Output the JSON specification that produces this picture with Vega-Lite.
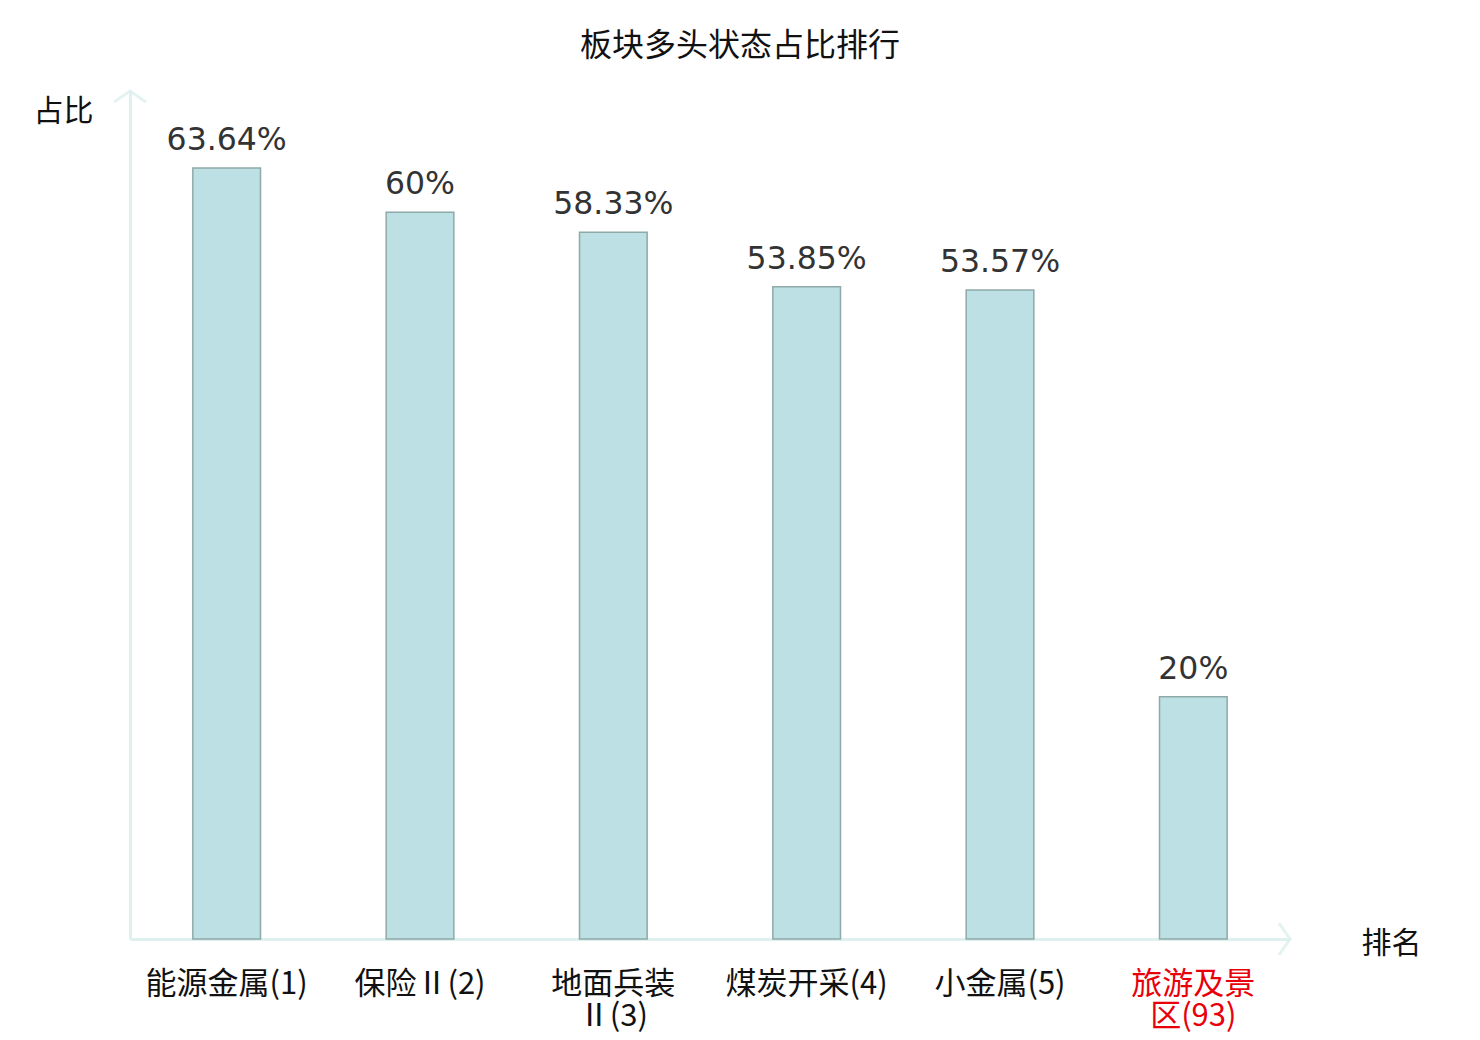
{
  "$schema": "https://vega.github.io/schema/vega-lite/v6.json",
  "autosize": {"type": "none"},
  "padding": {"left": 130, "top": 91, "right": 190, "bottom": 101},
  "width": 1160,
  "height": 848,
  "background": "white",
  "title": {
    "text": "板块多头状态占比排行",
    "font": "Noto Sans CJK SC",
    "fontSize": 32,
    "fontWeight": "normal",
    "color": "#111111",
    "anchor": "middle",
    "frame": "group",
    "dx": 30,
    "offset": 22
  },
  "config": {"view": {"stroke": null}},
  "data": {
    "values": [
      {"name": "能源金属(1)", "value": 63.64, "label": "63.64%"},
      {"name": "保险Ⅱ(2)", "value": 60, "label": "60%"},
      {"name": "地面兵装\nⅡ(3)", "value": 58.33, "label": "58.33%"},
      {"name": "煤炭开采(4)", "value": 53.85, "label": "53.85%"},
      {"name": "小金属(5)", "value": 53.57, "label": "53.57%"},
      {"name": "旅游及景\n区(93)", "value": 20, "label": "20%"}
    ]
  },
  "layer": [
    {
      "mark": {"type": "bar", "fill": "#bce0e3", "stroke": "#8fa9a9", "strokeWidth": 1.5},
      "encoding": {
        "x": {
          "field": "name",
          "type": "nominal",
          "sort": null,
          "scale": {"paddingInner": 0.65, "paddingOuter": 0.325},
          "axis": {
            "title": "排名",
            "titleFont": "Noto Sans CJK SC",
            "titleFontSize": 30,
            "titleFontWeight": "normal",
            "titleColor": "#111111",
            "titleAngle": 0,
            "titleAlign": "center",
            "titleBaseline": "middle",
            "titleX": 1261,
            "titleY": 4,
            "domainColor": "#def1ef",
            "domainWidth": 3,
            "ticks": false,
            "grid": false,
            "labelAngle": 0,
            "labelFont": "Noto Sans CJK SC",
            "labelFontSize": 31,
            "labelLineHeight": 32,
            "labelPadding": 30,
            "labelBaseline": "top",
            "labelExpr": "split(datum.value, '\\n')",
            "labelColor": {
              "condition": {"test": "indexof(datum.value, '旅游') >= 0", "value": "#e8000b"},
              "value": "#111111"
            }
          }
        },
        "y": {
          "field": "value",
          "type": "quantitative",
          "scale": {"domain": [0, 70], "nice": false},
          "axis": {
            "title": "占比",
            "titleFont": "Noto Sans CJK SC",
            "titleFontSize": 30,
            "titleFontWeight": "normal",
            "titleColor": "#111111",
            "titleAngle": 0,
            "titleAlign": "center",
            "titleBaseline": "middle",
            "titleX": -67,
            "titleY": 20,
            "domainColor": "#def1ef",
            "domainWidth": 3,
            "ticks": false,
            "labels": false,
            "grid": false
          }
        }
      }
    },
    {
      "mark": {"type": "text", "font": "DejaVu Sans", "fontSize": 31.5, "color": "#333333", "baseline": "alphabetic", "dy": -18},
      "encoding": {
        "x": {"field": "name", "type": "nominal", "sort": null},
        "y": {"field": "value", "type": "quantitative"},
        "text": {"field": "label"}
      }
    },
    {
      "data": {"values": [{"axis": "y"}]},
      "mark": {"type": "point", "shape": "M-1,0.7L0,0L1,0.7", "filled": false, "stroke": "#d9efec", "strokeWidth": 3, "size": 1000, "clip": false},
      "encoding": {"x": {"value": 0}, "y": {"value": 0}}
    },
    {
      "data": {"values": [{"axis": "x"}]},
      "mark": {"type": "point", "shape": "M-0.7,-1L0,0L-0.7,1", "filled": false, "stroke": "#d9efec", "strokeWidth": 3, "size": 1000, "clip": false},
      "encoding": {"x": {"value": "width"}, "y": {"value": "height"}}
    }
  ]
}
